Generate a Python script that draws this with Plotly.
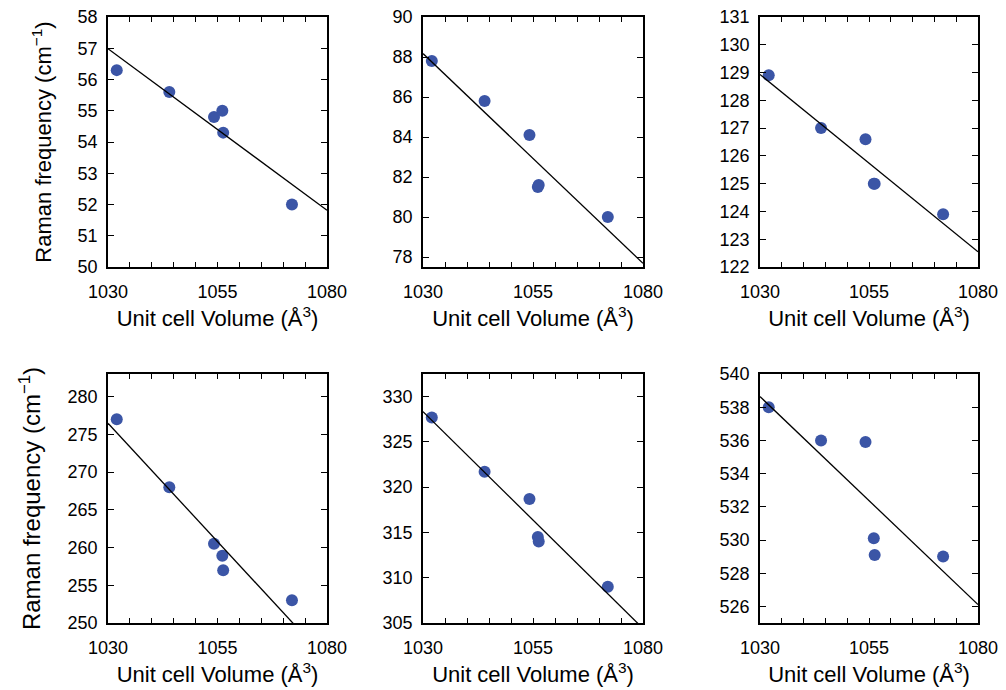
import numpy as np
import plotly.graph_objects as go

# ---- data ----
volume = [1032.0, 1044.0, 1054.2, 1056.1, 1056.3, 1072.0]
mode1 = [56.3, 55.6, 54.8, 55.0, 54.3, 52.0]
mode2 = [87.8, 85.8, 84.1, 81.5, 81.6, 80.0]
mode3 = [128.9, 127.0, 126.6, 125.0, 125.0, 123.9]
mode4 = [277.0, 268.0, 260.5, 258.9, 257.0, 253.0]
mode5 = [327.7, 321.7, 318.7, 314.5, 314.0, 309.0]
mode6 = [538.0, 536.0, 535.9, 530.1, 529.1, 529.0]
modes = [mode1, mode2, mode3, mode4, mode5, mode6]

y_ranges = [[50, 58], [77.5, 90], [122, 131], [250, 283], [305, 332.5], [525, 540]]
y_dticks = [1, 2, 1, 5, 5, 2]
x_range = [1030, 1080]
x_tickvals = list(range(1030, 1081, 5))
x_ticktext = [str(v) if v in (1030, 1055, 1080) else "" for v in x_tickvals]

# ---- layout geometry ----
W, H = 1006, 690
x_doms = [(108, 327), (423, 643), (760, 978)]
y_doms = [(17, 267), (374, 623)]

MARKER = "#3b55a6"
FONT = "Liberation Sans, Arial, Helvetica, sans-serif"

fig = go.Figure()
layout = {}
for i, ys in enumerate(modes):
    r, c = divmod(i, 3)
    n = i + 1
    xa = "x" if n == 1 else f"x{n}"
    ya = "y" if n == 1 else f"y{n}"
    coef = np.polyfit(volume, ys, 1)
    fx = np.array(x_range, dtype=float)
    fy = np.polyval(coef, fx)
    fig.add_trace(go.Scatter(x=volume, y=ys, mode="markers", xaxis=xa, yaxis=ya,
                             marker=dict(size=12, color=MARKER, line=dict(width=0)),
                             showlegend=False, cliponaxis=True))
    fig.add_trace(go.Scatter(x=fx, y=fy, mode="lines", xaxis=xa, yaxis=ya,
                             line=dict(color="black", width=1.3),
                             showlegend=False))
    x0, x1 = x_doms[c]
    y0, y1 = y_doms[r]
    common = dict(showline=True, linecolor="black", linewidth=1.8, mirror="ticks",
                  ticks="inside", tickcolor="black", tickwidth=1.3,
                  showgrid=False, zeroline=False, automargin=False,
                  tickfont=dict(family=FONT, size=18, color="black"))
    layout["xaxis" if n == 1 else f"xaxis{n}"] = dict(
        domain=[x0 / W, x1 / W], anchor=ya, range=x_range,
        tickmode="array", tickvals=x_tickvals, ticktext=x_ticktext, ticklen=5,
        ticklabelstandoff=7,
        title=dict(text="Unit cell Volume (Å<sup>3</sup>)", standoff=10,
                   font=dict(family=FONT, size=22, color="black")),
        **common)
    ytitle = None
    if c == 0:
        ytitle = dict(text="Raman frequency (cm<sup>−1</sup>)", standoff=20,
                      font=dict(family=FONT, size=22 if r == 0 else 24, color="black"))
    layout["yaxis" if n == 1 else f"yaxis{n}"] = dict(
        domain=[1 - y1 / H, 1 - y0 / H], anchor=xa, range=y_ranges[i],
        dtick=y_dticks[i], tick0=0, ticklen=6, ticklabelstandoff=5,
        title=ytitle, **common)

fig.update_layout(width=W, height=H, margin=dict(l=0, r=0, t=0, b=0),
                  paper_bgcolor="white", plot_bgcolor="white", **layout)
fig.write_html("out.html", config={"displayModeBar": False},
               post_script="document.body.style.margin='0';document.body.style.overflow='hidden';")
